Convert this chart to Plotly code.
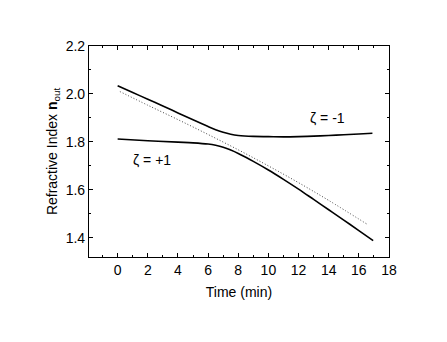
import plotly.graph_objects as go

# zeta = -1 branch
t_minus = [0, 1, 2, 3, 4, 5, 6, 6.5, 7, 7.5, 8, 9, 10, 11, 12, 13, 14, 15, 16, 16.9]
n_minus = [2.034, 2.006, 1.978, 1.950, 1.921, 1.892, 1.864, 1.851, 1.840, 1.832,
           1.827, 1.823, 1.822, 1.821, 1.822, 1.824, 1.827, 1.830, 1.833, 1.836]

# zeta = +1 branch
t_plus = [0, 2, 4, 5, 6, 6.5, 7, 7.5, 8, 8.5, 9, 10, 11, 12, 13, 14, 15, 16, 16.95]
n_plus = [1.812, 1.805, 1.799, 1.796, 1.791, 1.786, 1.778, 1.766, 1.752, 1.736,
          1.719, 1.683, 1.644, 1.603, 1.560, 1.517, 1.474, 1.430, 1.388]

# dotted reference curve
t_ref = [0.15, 2, 4, 6, 8, 10, 12, 14, 16.54]
n_ref = [2.010, 1.953, 1.893, 1.831, 1.767, 1.700, 1.630, 1.556, 1.457]

x_ticks = [0, 2, 4, 6, 8, 10, 12, 14, 16, 18]
y_ticks = [1.4, 1.6, 1.8, 2.0, 2.2]

FONT = "Liberation Sans, Arial, sans-serif"

fig = go.Figure()
fig.add_trace(go.Scatter(x=t_ref, y=n_ref, mode="lines", line_shape="spline",
                         line=dict(color="#444444", width=1, dash="1px,2px")))
fig.add_trace(go.Scatter(x=t_minus, y=n_minus, mode="lines", line_shape="spline",
                         line=dict(color="black", width=1.6)))
fig.add_trace(go.Scatter(x=t_plus, y=n_plus, mode="lines", line_shape="spline",
                         line=dict(color="black", width=1.6)))

fig.add_annotation(x=13.95, y=1.901, text="ζ = -1", showarrow=False,
                   font=dict(family=FONT, size=14, color="black"))
fig.add_annotation(x=2.26, y=1.726, text="ζ = +1", showarrow=False,
                   font=dict(family=FONT, size=14, color="black"))

axis_common = dict(showgrid=False, zeroline=False, showline=True, linecolor="black",
                   linewidth=1.2, mirror="ticks", ticks="inside", ticklen=4,
                   tickcolor="black", tickwidth=1,
                   tickfont=dict(family=FONT, size=14, color="black"))

fig.update_xaxes(range=[-1.9, 18], tickvals=x_ticks,
                 minor=dict(dtick=1, ticks="inside", ticklen=2, tickcolor="black"),
                 title=dict(text="Time (min)", font=dict(family=FONT, size=14, color="black"),
                            standoff=10),
                 **axis_common)
fig.update_yaxes(range=[1.32, 2.2], tickvals=y_ticks, tickformat=".1f",
                 minor=dict(dtick=0.1, ticks="inside", ticklen=2, tickcolor="black"),
                 title=dict(text="Refractive Index <b>n</b><sub>out</sub>",
                            font=dict(family=FONT, size=14, color="black"), standoff=4),
                 **axis_common)

# page body has an 8px default margin, so the figure is offset by 8px
fig.update_layout(width=439, height=334, showlegend=False,
                  margin=dict(l=81, r=58, t=38, b=85, autoexpand=False),
                  plot_bgcolor="white", paper_bgcolor="white")

fig.write_html("out.html")
